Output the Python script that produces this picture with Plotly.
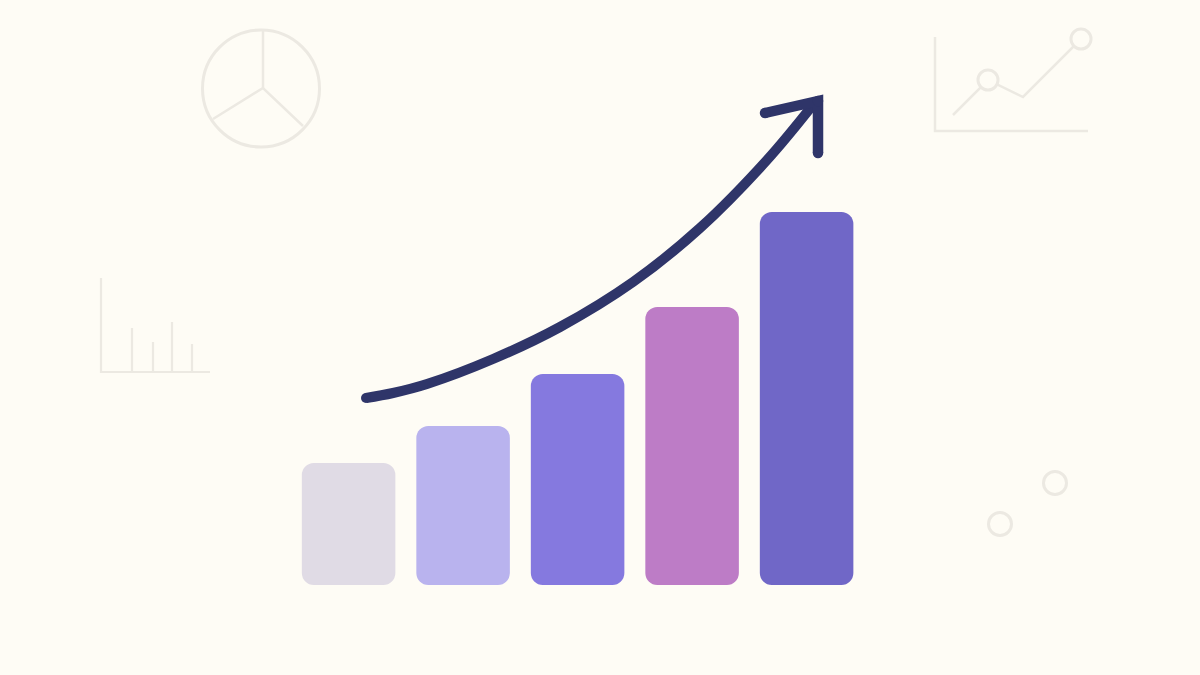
import plotly.graph_objects as go

# Bars
categories = [0, 1, 2, 3, 4]
values = [122, 159, 211, 278, 373]
bar_colors = ["#E0DBE5", "#B9B3EE", "#8579DF", "#BD7CC6", "#7067C7"]

# Trend arrow
curve_x = [366, 393, 427, 493, 560, 633, 700, 767, 816]
curve_y = [398, 393, 384, 359, 327, 282, 228, 160, 101]
head_x = [765, 818, 818]
head_y = [113, 101, 153]

# Background sketches
pie_center_x = [261]
pie_center_y = [88.5]
pie_spokes_x = [263, 263, None, 213, 263, 303]
pie_spokes_y = [30, 88, None, 119, 88, 126]
line_axes_x = [935, 935, 1088]
line_axes_y = [37, 131, 131]
line_x = [953, 988, 1023, 1081]
line_y = [115, 80, 97, 39]
ring_x = [988, 1081]
ring_y = [80, 39]
small_axes_x = [101, 101, 210]
small_axes_y = [278, 372, 372]
small_ticks_x = [132, 132, None, 153, 153, None, 172, 172, None, 192, 192]
small_ticks_y = [328, 372, None, 342, 372, None, 322, 372, None, 344, 372]
dots_x = [1055, 1000]
dots_y = [483, 524]

BG = "#FEFCF5"
SKETCH = "#ECE9E2"
NAVY = "#2F3569"

fig = go.Figure()

# An explicit base makes Plotly round all four corners of each bar.
fig.add_trace(go.Bar(
    x=categories, y=values, base=0, width=0.817,
    marker=dict(color=bar_colors, line=dict(width=0), cornerradius=12),
    xaxis="x", yaxis="y",
))


def line(x, y, color=SKETCH, width=2.5):
    fig.add_trace(go.Scatter(x=x, y=y, mode="lines", xaxis="x2", yaxis="y2",
                             line=dict(color=color, width=width), connectgaps=False))


def rings(x, y, size):
    fig.add_trace(go.Scatter(x=x, y=y, mode="markers", xaxis="x2", yaxis="y2",
                             marker=dict(symbol="circle", size=size, color=BG, opacity=1,
                                         line=dict(color=SKETCH, width=3))))


rings(pie_center_x, pie_center_y, 117)
line(pie_spokes_x, pie_spokes_y)
line(line_axes_x, line_axes_y)
line(line_x, line_y)
rings(ring_x, ring_y, 20)
line(small_axes_x, small_axes_y, width=2.2)
line(small_ticks_x, small_ticks_y, width=2.2)
rings(dots_x, dots_y, 23)

fig.add_trace(go.Scatter(x=curve_x, y=curve_y, mode="lines", xaxis="x2", yaxis="y2",
                         line=dict(color=NAVY, width=10, shape="spline", smoothing=1)))
fig.add_trace(go.Scatter(x=head_x, y=head_y, mode="lines", xaxis="x2", yaxis="y2",
                         line=dict(color=NAVY, width=10.5)))
fig.add_trace(go.Scatter(
    x=[curve_x[0], head_x[0], head_x[1], head_x[2]],
    y=[curve_y[0], head_y[0], head_y[1], head_y[2]],
    mode="markers", xaxis="x2", yaxis="y2",
    marker=dict(color=NAVY, opacity=1, size=[10, 10.5, 10.5, 10.5], line=dict(width=0)),
))

STEP = 114.5
ORIGIN = 348.6
fig.update_layout(
    width=1200, height=675,
    margin=dict(l=0, r=0, t=0, b=0),
    paper_bgcolor=BG, plot_bgcolor=BG,
    showlegend=False, hovermode=False,
    xaxis=dict(range=[-ORIGIN / STEP, (1200 - ORIGIN) / STEP], visible=False, domain=[0, 1]),
    yaxis=dict(range=[-90, 585], visible=False, domain=[0, 1]),
    xaxis2=dict(range=[0, 1200], visible=False, overlaying="x"),
    yaxis2=dict(range=[675, 0], visible=False, overlaying="y"),
)

fig.write_html("out.html", config={"displayModeBar": False},
               post_script="document.body.style.margin='0';document.body.style.background='#FEFCF5';")
